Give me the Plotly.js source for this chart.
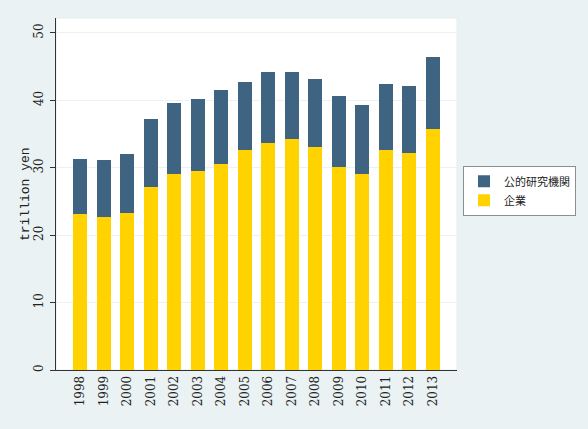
<!DOCTYPE html>
<html>
<head>
<meta charset="utf-8">
<script src="https://cdn.plot.ly/plotly-3.0.1.min.js"></script>
<style>html,body{margin:0;padding:0;background:#eaf2f3;}</style>
</head>
<body>
<div id="chart" style="width:588px;height:429px;"></div>
<script>
const years = ['1998','1999','2000','2001','2002','2003','2004','2005','2006','2007','2008','2009','2010','2011','2012','2013'];
const enterprise = [23.1, 22.65, 23.25, 27.1, 29.0, 29.5, 30.55, 32.6, 33.6, 34.25, 33.1, 30.05, 29.1, 32.6, 32.25, 35.7];
const publicResearch = [8.15, 8.5, 8.75, 10.1, 10.55, 10.7, 10.9, 10.1, 10.55, 9.9, 10.1, 10.65, 10.2, 9.8, 9.9, 10.65];
const seriesNames = ['企業', '公的研究機関'];
const yTicks = [0, 10, 20, 30, 40, 50];
const yTitle = 'trillion yen';

const serif = '"DejaVu Serif", "Liberation Serif", serif';
const mono = '"Liberation Mono", "DejaVu Sans Mono", monospace';
const cjk = '"Noto Sans CJK JP", "Noto Sans CJK SC", sans-serif';

const traces = [
  {type:'bar', name: seriesNames[0], x: years, y: enterprise, marker:{color:'#ffd200', line:{width:0}}},
  {type:'bar', name: seriesNames[1], x: years, y: publicResearch, marker:{color:'#3e6482', line:{width:0}}}
];

const layout = {
  width: 588, height: 429,
  paper_bgcolor: '#eaf2f3',
  plot_bgcolor: '#ffffff',
  margin: {l:56, r:131, t:18, b:59, pad:0},
  barmode: 'stack',
  bargap: 0.4,
  showlegend: true,
  legend: {
    x: 1.015, xanchor: 'left', y: 0.58, yanchor: 'top',
    bgcolor: '#ffffff', bordercolor: '#8a8f92', borderwidth: 1,
    font: {family: cjk, size: 11, color: '#222'},
    traceorder: 'reversed',
    itemwidth: 30,
    tracegroupgap: 0
  },
  xaxis: {
    type: 'category',
    range: [-1.03, 16.03],
    tickangle: -90,
    ticks: '', showgrid: false,
    showline: true, linecolor: '#333', linewidth: 1,
    tickfont: {family: serif, size: 12, color: '#222'},
    automargin: false, fixedrange: true
  },
  yaxis: {
    range: [0, 52.2],
    tickvals: yTicks,
    ticktext: yTicks.map(String),
    tickangle: -90,
    ticks: 'outside', ticklen: 5, tickcolor: '#333',
    showline: true, linecolor: '#333', linewidth: 1,
    showgrid: true, gridcolor: '#eaf2f3', gridwidth: 1,
    zeroline: false,
    tickfont: {family: serif, size: 12, color: '#222'},
    ticklabelstandoff: 2,
    automargin: false, fixedrange: true
  },
  annotations: [
    {text: yTitle, xref:'paper', yref:'paper', x:0, y:0.5, xanchor:'center', yanchor:'middle',
     xshift:-31, textangle:-90, showarrow:false, font:{family: mono, size: 13, color:'#222'}}
  ],
  shapes: [
    {type:'rect', xref:'paper', yref:'paper', x0:0, x1:1, y0:0, y1:1, line:{color:'#e3ecee', width:1}, layer:'below'}
  ]
};

Plotly.newPlot('chart', traces, layout, {displayModeBar:false, staticPlot:true});
</script>
</body>
</html>
